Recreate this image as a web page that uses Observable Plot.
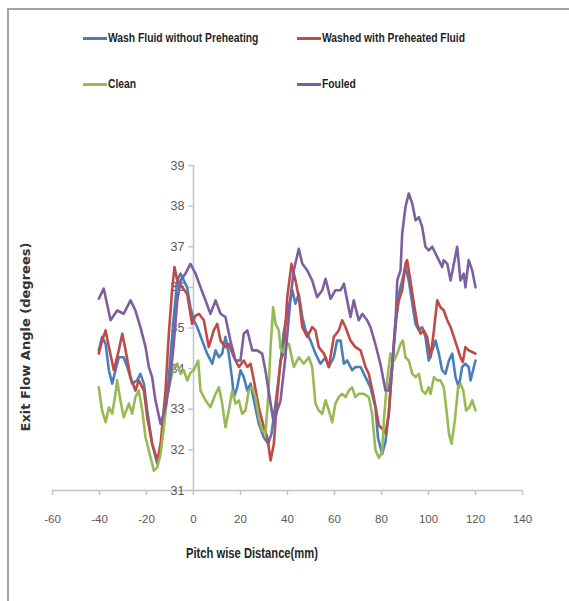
<!DOCTYPE html>
<html>
<head>
<meta charset="utf-8">
<script src="https://cdn.jsdelivr.net/npm/d3@7"></script>
<script src="https://cdn.jsdelivr.net/npm/@observablehq/plot@0.6"></script>
<style>
  html, body { margin: 0; padding: 0; background: #fff; }
  #chart { position: relative; width: 569px; height: 601px; overflow: hidden;
           font-family: "Liberation Sans", Arial, sans-serif; }
  #frame { position: absolute; left: 7px; top: 8px; right: -4px; bottom: -4px;
           border-top: 2px solid #a3a3a3; border-left: 2px solid #a3a3a3; }
  #legend .item { position: absolute; display: flex; align-items: center; white-space: nowrap; }
  #legend .swatch { width: 24px; height: 3px; margin-right: 1px; }
  #legend .name { font-size: 12px; color: #1f1f1f; font-weight: bold;
                  display: inline-block; transform: scaleX(0.86); transform-origin: left center; }
  #plot { position: absolute; left: 0; top: 130px; }
  .title { position: absolute; white-space: nowrap; color: #262626; font-weight: bold; }
  #ytitle { left: 25px; top: 337px; transform: translate(-50%, -50%) rotate(-90deg);
            font-family: "DejaVu Sans", sans-serif; font-size: 13px; color: #333; }
  #xtitle { left: 252px; top: 553px; transform: translate(-50%, -50%) scaleX(0.8); font-size: 14px; }
</style>
</head>
<body>
<div id="chart">
  <div id="frame"></div>
  <div id="legend"></div>
  <div id="plot"></div>
  <div class="title" id="ytitle">Exit Flow Angle (degrees)</div>
  <div class="title" id="xtitle">Pitch wise Distance(mm)</div>
</div>
<script>
// Pitch-wise traverse of exit flow angle for four blade-surface conditions.
const seriesNames = ["Wash Fluid without Preheating", "Washed with Preheated Fluid", "Clean", "Fouled"];
const seriesColors = ["#4a7ebb", "#be4b48", "#98b954", "#7d5fa0"];

const xTicks = [-60, -40, -20, 0, 20, 40, 60, 80, 100, 120, 140];
const yTicks = [31, 32, 33, 34, 35, 36, 37, 38, 39];

// Wash fluid without preheating
const washX = [-40.3, -38.9, -37.4, -36, -34.6, -33.2, -31.8, -29.7, -28.2, -26.1, -24, -22.6, -21.1, -19.7, -17.6, -15.4, -14, -12.6, -10.5, -8.4, -6.9, -5.5, -4.1, -2.7, -1.3, 0.1, 1.6, 3.7, 5.8, 8, 9.4, 10.8, 12.2, 13.6, 15, 16.5, 17.2, 18.6, 20, 21.4, 22.9, 24.3, 25.7, 27.8, 29.9, 31.8, 33.2, 34.9, 37, 38.4, 39.9, 42, 43.4, 44.8, 46.3, 47.7, 49.8, 51.9, 54, 56.2, 57.6, 59.7, 61.1, 62.6, 64, 65.4, 67.5, 68.9, 71.1, 73.2, 75.3, 77.4, 78.5, 80.3, 81.7, 83.1, 84.5, 86, 87.4, 88.8, 90.2, 91.6, 93.1, 94.5, 95.9, 97.3, 98.7, 100.1, 101.6, 103, 104.4, 105.8, 107.2, 108.7, 110.1, 111.5, 112.9, 114.3, 115.7, 117.1, 117.9, 119.3, 120];
const washY = [34.45, 34.78, 34.61, 33.96, 33.63, 33.96, 34.28, 34.28, 34.04, 33.63, 33.71, 33.87, 33.63, 32.97, 32.15, 31.66, 31.99, 32.64, 33.79, 35.27, 36.17, 36.34, 36.17, 36.0, 35.51, 35.19, 35.02, 34.69, 34.37, 34.12, 34.45, 34.28, 34.37, 34.78, 34.37, 33.71, 33.3, 33.54, 33.96, 33.79, 33.46, 33.63, 33.22, 32.64, 32.31, 32.15, 32.4, 33.14, 34.12, 34.9, 35.35, 35.93, 35.6, 35.84, 35.27, 34.94, 34.69, 34.37, 34.12, 34.28, 34.04, 34.28, 34.69, 34.69, 34.12, 34.2, 33.96, 34.04, 34.04, 33.79, 33.54, 33.05, 32.3, 31.9, 32.2, 32.89, 34.0, 35.05, 35.84, 36.17, 36.5, 36.17, 35.6, 35.1, 34.94, 35.02, 34.78, 34.2, 34.45, 34.69, 34.37, 33.96, 33.87, 34.2, 34.37, 33.79, 33.54, 34.04, 34.12, 34.04, 33.71, 34.04, 34.2];

// Washed with preheated fluid
const preheatX = [-40.3, -38.9, -37.4, -36, -33.9, -31.8, -30.3, -28.9, -26.8, -24.7, -23.3, -21.1, -19.7, -17.6, -15.4, -14, -11.9, -10.5, -9.1, -8.1, -6.9, -4.8, -2.7, -0.6, 0.8, 2.3, 4.4, 6.5, 8.6, 10.1, 11.5, 13.6, 15, 17.2, 19.3, 21.4, 22.9, 24.3, 25.7, 27.8, 29.9, 31.4, 32.8, 34.2, 35.6, 37, 38.4, 39.9, 41.7, 43.4, 44.8, 46.3, 48.4, 50.5, 51.9, 53.3, 55.5, 57.6, 59.7, 61.8, 63.3, 64.7, 66.8, 68.9, 71.1, 73.2, 74.6, 76.7, 78.9, 80.3, 81.7, 83.1, 84.5, 86, 87.4, 88.8, 90.2, 90.9, 92.3, 93.8, 95.2, 96.6, 98, 99.4, 100.9, 102.3, 103.7, 105.1, 106.5, 108, 109.4, 110.8, 112.2, 113.6, 114.6, 115.7, 117.1, 118.6, 120];
const preheatY = [34.37, 34.69, 34.94, 34.53, 33.96, 34.45, 34.86, 34.45, 33.79, 33.46, 33.71, 33.46, 32.8, 32.15, 31.74, 32.15, 33.46, 34.86, 35.93, 36.5, 36.17, 36.0, 35.84, 35.1, 35.3, 35.35, 35.19, 34.53, 34.94, 35.1, 34.69, 34.53, 34.61, 34.28, 34.04, 34.2, 34.04, 34.12, 33.71, 33.05, 32.56, 32.31, 31.74, 32.15, 33.3, 34.2, 34.4, 35.76, 36.58, 36.17, 35.76, 35.02, 34.78, 35.02, 34.94, 34.53, 34.37, 34.04, 34.78, 34.94, 35.19, 35.02, 34.69, 34.53, 34.45, 34.04, 33.87, 33.3, 32.6, 32.52, 32.4, 32.89, 34.04, 35.19, 35.68, 35.93, 36.58, 36.67, 36.17, 35.6, 35.1, 34.86, 34.94, 34.78, 34.28, 34.94, 35.68, 35.51, 35.43, 35.19, 35.02, 34.78, 34.53, 34.28, 34.16, 34.53, 34.45, 34.41, 34.37];

// Clean blades
const cleanX = [-40.3, -38.9, -37.4, -36, -34.6, -33.2, -32.5, -31.1, -29.7, -27.5, -26.1, -24.7, -23.3, -21.8, -20.4, -18.3, -16.9, -15.4, -14, -12.6, -11.2, -9.8, -8.4, -6.9, -5.5, -4.1, -2.7, -1.3, 0.1, 2, 3, 5.1, 7.2, 9.4, 10.8, 12.2, 13.6, 15, 16.5, 17.9, 19.3, 20.7, 22.1, 23.5, 25, 26.4, 27.8, 29.2, 30.6, 31.8, 32.8, 33.9, 34.9, 36.3, 37, 38.4, 39.1, 40.6, 42.7, 44.8, 46.9, 49.1, 50.5, 51.9, 53.3, 54.8, 56.2, 57.6, 59, 60.4, 61.8, 63.3, 64.7, 66.1, 67.5, 68.9, 70.3, 72.5, 74.6, 76, 77.4, 78.9, 80.3, 81, 82.4, 83.8, 85.3, 86.7, 88.1, 89.1, 90.2, 91.6, 93.1, 94.5, 95.9, 97.3, 98.7, 100.1, 100.9, 102.3, 103.7, 105.1, 106.5, 107.5, 108.7, 109.8, 111.2, 112.6, 113.6, 114.8, 116, 117.4, 118.6, 120];
const cleanY = [33.54, 32.97, 32.68, 33.05, 32.89, 33.38, 33.71, 33.22, 32.8, 33.14, 32.89, 33.3, 33.46, 32.97, 32.31, 31.82, 31.49, 31.57, 31.9, 32.56, 33.3, 33.71, 34.04, 34.12, 33.87, 33.96, 33.71, 33.9, 33.96, 34.2, 33.46, 33.22, 33.05, 33.38, 33.54, 33.14, 32.56, 32.97, 33.46, 33.14, 33.22, 32.89, 32.97, 33.46, 33.54, 33.3, 32.8, 32.48, 32.4, 33.3, 34.53, 35.51, 35.1, 34.94, 34.5, 34.4, 34.61, 34.61, 34.04, 34.28, 34.12, 34.28, 34.04, 33.14, 32.97, 32.89, 33.22, 32.97, 32.68, 33.14, 33.3, 33.38, 33.3, 33.46, 33.54, 33.3, 33.38, 33.38, 33.3, 32.89, 32.0, 31.8, 31.95, 32.72, 33.71, 34.37, 34.2, 34.37, 34.61, 34.69, 34.28, 34.2, 33.87, 33.79, 33.87, 33.46, 33.38, 33.54, 33.38, 33.79, 33.71, 33.71, 33.54, 33.05, 32.4, 32.15, 32.72, 33.54, 33.63, 33.46, 32.97, 33.05, 33.22, 32.97];

// Fouled blades
const fouledX = [-40.3, -38.2, -35.3, -32.5, -29.7, -26.8, -24.7, -22.6, -20.4, -19, -17.6, -16.2, -14, -11.9, -9.8, -8.4, -6.9, -5.5, -3.4, -1.3, 0.85, 3, 5.1, 7.2, 9.4, 11.5, 13.6, 15.7, 17.9, 20, 21.4, 22.9, 25, 27.1, 29.2, 30.6, 32.8, 34.2, 35.6, 37, 39.1, 41.3, 42.7, 44.8, 46.3, 48.4, 50.5, 52.6, 54.8, 56.2, 58.3, 60.4, 62.6, 64, 65.4, 66.8, 68.2, 70.3, 71.8, 73.9, 75.3, 77.4, 79.6, 81.7, 83.1, 84.5, 86, 86.7, 88.1, 88.8, 90.2, 91.6, 93.1, 94.5, 95.9, 97.3, 98.7, 100.1, 101.6, 103, 104.4, 105.8, 106.5, 108, 109.4, 110.8, 112.2, 113.6, 115, 115.7, 117.1, 118.6, 120];
const fouledY = [35.72, 35.97, 35.19, 35.43, 35.35, 35.68, 35.43, 35.02, 34.53, 34.04, 33.79, 33.22, 32.64, 33.05, 33.79, 34.61, 35.68, 36.17, 36.34, 36.58, 36.34, 36.0, 35.68, 35.35, 35.68, 35.35, 35.27, 34.69, 34.2, 34.2, 34.86, 34.94, 34.45, 34.45, 34.37, 33.96, 33.14, 32.64, 32.97, 33.2, 34.28, 35.76, 36.42, 36.95, 36.58, 36.42, 36.17, 35.76, 35.93, 36.21, 35.72, 35.93, 35.93, 36.09, 35.68, 35.27, 35.68, 35.19, 35.35, 35.19, 35.02, 34.6, 34.1, 33.46, 33.46, 34.04, 35.19, 36.17, 36.42, 37.32, 37.98, 38.31, 38.06, 37.65, 37.73, 37.49, 37.0, 36.91, 37.0, 36.83, 36.67, 36.5, 36.67, 36.58, 36.17, 36.58, 37.0, 36.17, 36.34, 36.0, 36.67, 36.42, 36.0];

const seriesX = [washX, preheatX, cleanX, fouledX];
const seriesY = [washY, preheatY, cleanY, fouledY];

const rows = seriesNames.flatMap((name, k) =>
  seriesX[k].map((x, i) => ({series: name, x, y: seriesY[k][i]}))
);

// Legend: two rows of two entries above the plot
const legendSlots = [[83, 38], [297, 38], [83, 84], [297, 84]];
const legend = document.getElementById("legend");
seriesNames.forEach((name, k) => {
  const item = document.createElement("div");
  item.className = "item";
  item.style.left = legendSlots[k][0] + "px";
  item.style.top = (legendSlots[k][1] - 9) + "px";
  item.style.height = "18px";
  const sw = document.createElement("span");
  sw.className = "swatch";
  sw.style.background = seriesColors[k];
  const label = document.createElement("span");
  label.className = "name";
  label.textContent = name;
  item.appendChild(sw);
  item.appendChild(label);
  legend.appendChild(item);
});

const axisColor = "#c4c4c4";
const labelColor = "#595959";

const chart = Plot.plot({
  width: 569,
  height: 471,
  marginLeft: 52,
  marginRight: 47,
  marginTop: 35,
  marginBottom: 111,
  style: {fontFamily: '"Liberation Sans", Arial, sans-serif', background: "transparent"},
  x: {domain: [-60, 140], axis: null},
  y: {domain: [31, 39], axis: null},
  color: {domain: seriesNames, range: seriesColors},
  marks: [
    // horizontal axis along the bottom with outward ticks
    Plot.ruleY([31], {stroke: axisColor, strokeWidth: 1.5}),
    Plot.axisX({ticks: xTicks, tickSize: 5, tickPadding: 19, tickFormat: d => String(d),
                stroke: axisColor, strokeWidth: 1.5, fill: labelColor, fontSize: 11.5, label: null}),
    // vertical axis crossing at x = 0
    Plot.ruleX([0], {stroke: axisColor, strokeWidth: 1.5}),
    Plot.ruleY(yTicks, {x1: -2, x2: 0, stroke: axisColor, strokeWidth: 1.5}),
    Plot.text(yTicks, {x: () => 0, y: d => d, text: d => String(d), textAnchor: "end",
                       dx: -9, fontSize: 12.5, fill: labelColor}),
    // the four traverses
    Plot.line(rows, {x: "x", y: "y", z: "series", stroke: "series", strokeWidth: 2.6,
                     strokeLinejoin: "round", strokeLinecap: "round"})
  ]
});
document.getElementById("plot").appendChild(chart);
</script>
</body>
</html>
